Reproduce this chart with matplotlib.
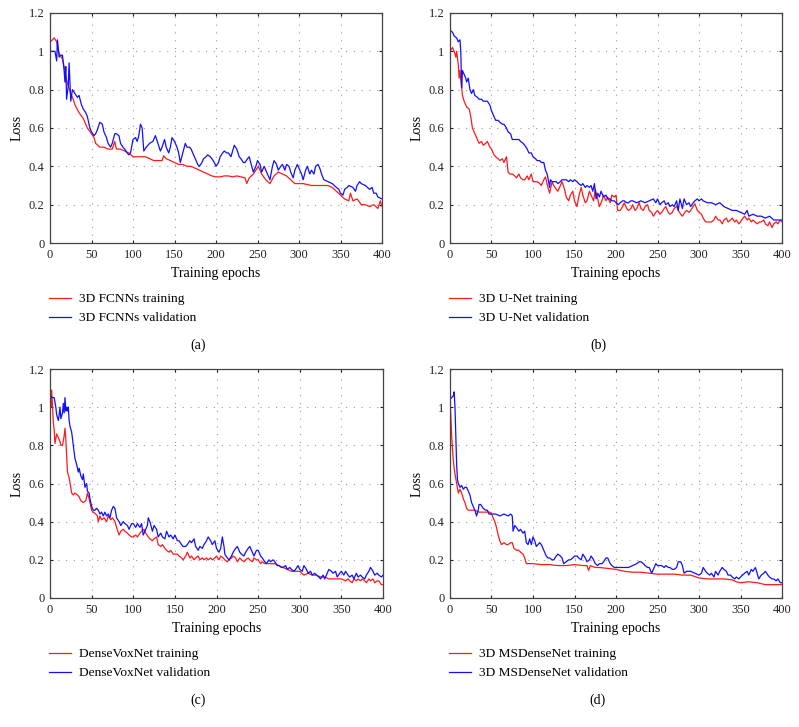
import numpy as np
import matplotlib
matplotlib.use("Agg")
import matplotlib.pyplot as plt

plt.rcParams['font.family'] = 'serif'
plt.rcParams['font.serif'] = ['Liberation Serif', 'DejaVu Serif']

# epoch, loss pairs
a_train = np.array([
    (0, 1.05), (3, 1.06), (5, 1.07), (8, 1.05), (10, 1.0), (12, 0.98), (15, 0.96), (18, 0.9), (20, 0.85),
    (22, 0.82), (25, 0.78), (28, 0.75), (30, 0.72), (35, 0.68), (40, 0.65), (45, 0.6), (50, 0.57),
    (53, 0.55), (55, 0.52), (60, 0.5), (65, 0.5), (70, 0.49), (75, 0.49), (78, 0.53), (80, 0.49),
    (85, 0.49), (90, 0.48), (95, 0.47), (100, 0.45), (105, 0.45), (110, 0.45), (115, 0.45), (120, 0.44),
    (125, 0.43), (130, 0.43), (135, 0.43), (137, 0.455), (140, 0.44), (145, 0.43), (150, 0.42),
    (155, 0.41), (160, 0.41), (165, 0.40), (170, 0.40), (175, 0.39), (180, 0.38), (185, 0.37),
    (190, 0.36), (195, 0.35), (200, 0.345), (205, 0.345), (210, 0.35), (215, 0.35), (220, 0.345),
    (225, 0.35), (230, 0.345), (235, 0.34), (237, 0.31), (240, 0.34), (245, 0.36), (248, 0.38),
    (251, 0.40), (255, 0.36), (260, 0.33), (265, 0.31), (270, 0.35), (275, 0.37), (280, 0.36),
    (285, 0.35), (290, 0.33), (295, 0.31), (300, 0.31), (305, 0.31), (310, 0.305), (315, 0.30),
    (320, 0.30), (325, 0.30), (330, 0.30), (335, 0.30), (340, 0.29), (345, 0.27), (350, 0.25),
    (355, 0.23), (360, 0.22), (362, 0.26), (365, 0.22), (370, 0.23), (375, 0.2), (380, 0.2),
    (385, 0.19), (390, 0.2), (395, 0.18), (398, 0.22), (400, 0.19)])
a_val = np.array([
    (0, 1.0), (3, 1.0), (6, 1.0), (8, 0.95), (9, 1.06), (11, 0.97), (13, 0.98), (15, 0.98), (17, 0.9),
    (18, 0.84), (19, 0.92), (20, 0.75), (22, 0.82), (23, 0.94), (25, 0.74), (27, 0.8), (30, 0.78),
    (33, 0.76), (35, 0.77), (38, 0.72), (40, 0.7), (43, 0.68), (45, 0.66), (48, 0.6), (50, 0.58),
    (53, 0.56), (55, 0.57), (57, 0.59), (60, 0.63), (63, 0.62), (65, 0.58), (68, 0.55), (70, 0.52),
    (73, 0.5), (75, 0.52), (78, 0.57), (80, 0.57), (83, 0.56), (85, 0.52), (88, 0.5), (90, 0.49),
    (93, 0.47), (95, 0.46), (97, 0.47), (100, 0.54), (103, 0.55), (105, 0.53), (107, 0.56), (109, 0.62),
    (111, 0.6), (113, 0.48), (116, 0.5), (120, 0.52), (124, 0.53), (127, 0.56), (130, 0.52), (133, 0.48),
    (135, 0.5), (138, 0.54), (140, 0.5), (143, 0.47), (145, 0.5), (147, 0.55), (150, 0.53), (153, 0.5),
    (155, 0.47), (157, 0.42), (160, 0.47), (163, 0.52), (165, 0.5), (168, 0.5), (170, 0.49), (173, 0.46),
    (175, 0.44), (178, 0.41), (180, 0.40), (183, 0.42), (185, 0.44), (188, 0.45), (190, 0.46),
    (193, 0.45), (195, 0.44), (198, 0.42), (200, 0.40), (203, 0.42), (205, 0.45), (208, 0.47),
    (210, 0.48), (213, 0.47), (215, 0.47), (218, 0.45), (220, 0.48), (222, 0.51), (225, 0.49),
    (228, 0.45), (230, 0.44), (233, 0.42), (235, 0.42), (238, 0.44), (240, 0.45), (243, 0.40),
    (245, 0.37), (248, 0.40), (250, 0.43), (253, 0.41), (255, 0.37), (258, 0.40), (260, 0.38),
    (263, 0.35), (265, 0.33), (268, 0.40), (270, 0.43), (273, 0.41), (275, 0.38), (278, 0.40),
    (280, 0.41), (283, 0.38), (285, 0.41), (288, 0.40), (290, 0.37), (293, 0.34), (295, 0.38),
    (298, 0.41), (300, 0.39), (303, 0.36), (305, 0.33), (308, 0.38), (310, 0.40), (313, 0.36),
    (315, 0.38), (318, 0.36), (320, 0.40), (323, 0.41), (325, 0.39), (328, 0.35), (330, 0.33),
    (335, 0.32), (340, 0.31), (345, 0.29), (348, 0.28), (350, 0.26), (353, 0.25), (355, 0.28),
    (358, 0.29), (360, 0.30), (365, 0.29), (368, 0.27), (370, 0.30), (373, 0.32), (375, 0.31),
    (380, 0.30), (385, 0.28), (388, 0.29), (390, 0.26), (393, 0.26), (395, 0.24), (400, 0.23)])

b_train = np.array([
    (0, 1.0), (3, 1.02), (5, 1.0), (7, 0.97), (8, 1.0), (10, 0.93), (11, 0.86), (12, 0.9), (13, 0.85),
    (14, 0.81), (15, 0.77), (17, 0.74), (20, 0.71), (23, 0.70), (25, 0.66), (27, 0.6), (30, 0.57),
    (33, 0.54), (35, 0.52), (38, 0.53), (40, 0.51), (43, 0.52), (45, 0.53), (48, 0.50), (50, 0.49),
    (53, 0.46), (55, 0.45), (58, 0.44), (60, 0.43), (63, 0.44), (65, 0.42), (68, 0.45), (70, 0.37),
    (72, 0.36), (75, 0.36), (78, 0.35), (80, 0.34), (83, 0.36), (85, 0.34), (88, 0.33), (90, 0.33),
    (93, 0.35), (95, 0.33), (98, 0.36), (100, 0.32), (103, 0.32), (105, 0.32), (108, 0.31), (110, 0.30),
    (113, 0.33), (115, 0.345), (118, 0.29), (120, 0.26), (123, 0.32), (125, 0.30), (128, 0.28),
    (130, 0.27), (133, 0.30), (135, 0.32), (138, 0.28), (140, 0.24), (143, 0.22), (145, 0.25),
    (148, 0.27), (150, 0.22), (153, 0.19), (155, 0.24), (158, 0.29), (160, 0.25), (163, 0.21),
    (165, 0.22), (168, 0.27), (170, 0.25), (173, 0.22), (175, 0.28), (178, 0.23), (180, 0.19),
    (183, 0.22), (185, 0.25), (188, 0.22), (190, 0.24), (193, 0.21), (195, 0.25), (198, 0.24),
    (200, 0.25), (202, 0.17), (205, 0.17), (208, 0.19), (210, 0.21), (213, 0.18), (215, 0.17),
    (218, 0.18), (220, 0.2), (223, 0.17), (225, 0.18), (228, 0.21), (230, 0.18), (233, 0.17),
    (235, 0.19), (238, 0.2), (240, 0.17), (243, 0.16), (245, 0.14), (248, 0.16), (250, 0.17),
    (253, 0.15), (255, 0.16), (258, 0.18), (260, 0.19), (263, 0.16), (265, 0.15), (268, 0.16),
    (270, 0.18), (273, 0.19), (275, 0.17), (278, 0.15), (280, 0.14), (283, 0.16), (285, 0.17),
    (288, 0.16), (290, 0.17), (293, 0.19), (295, 0.205), (298, 0.17), (300, 0.16), (303, 0.15),
    (305, 0.13), (308, 0.11), (310, 0.11), (313, 0.11), (315, 0.11), (318, 0.12), (320, 0.14),
    (323, 0.12), (325, 0.12), (328, 0.10), (330, 0.12), (333, 0.13), (335, 0.11), (338, 0.12),
    (340, 0.13), (343, 0.11), (345, 0.12), (348, 0.1), (350, 0.11), (353, 0.13), (355, 0.14),
    (358, 0.12), (360, 0.13), (363, 0.11), (365, 0.12), (370, 0.10), (373, 0.11), (375, 0.11),
    (378, 0.12), (380, 0.10), (383, 0.09), (385, 0.11), (388, 0.08), (390, 0.1), (393, 0.11),
    (395, 0.10), (398, 0.12), (400, 0.11)])
b_val = np.array([
    (0, 1.11), (3, 1.10), (5, 1.08), (8, 1.07), (10, 1.05), (12, 1.06), (13, 1.0), (14, 0.81), (15, 0.9),
    (17, 0.88), (19, 0.86), (20, 0.84), (22, 0.86), (24, 0.80), (26, 0.78), (28, 0.80), (30, 0.77),
    (33, 0.76), (35, 0.75), (38, 0.75), (40, 0.74), (43, 0.74), (45, 0.74), (48, 0.72), (50, 0.69),
    (53, 0.66), (55, 0.64), (58, 0.64), (60, 0.63), (63, 0.62), (65, 0.62), (68, 0.60), (70, 0.58),
    (73, 0.57), (75, 0.54), (78, 0.54), (80, 0.54), (83, 0.54), (85, 0.53), (88, 0.52), (90, 0.51),
    (93, 0.49), (95, 0.47), (98, 0.47), (100, 0.45), (103, 0.44), (105, 0.43), (108, 0.43), (110, 0.42),
    (113, 0.42), (115, 0.38), (117, 0.36), (118, 0.34), (120, 0.29), (121, 0.33), (123, 0.32),
    (125, 0.32), (128, 0.32), (130, 0.31), (133, 0.32), (135, 0.33), (138, 0.33), (140, 0.33),
    (143, 0.32), (145, 0.33), (148, 0.32), (150, 0.33), (153, 0.32), (155, 0.31), (158, 0.30),
    (160, 0.31), (163, 0.29), (165, 0.30), (168, 0.29), (170, 0.30), (172, 0.27), (174, 0.31),
    (176, 0.23), (178, 0.26), (180, 0.24), (182, 0.27), (185, 0.24), (188, 0.25), (190, 0.23),
    (193, 0.23), (195, 0.22), (198, 0.22), (200, 0.21), (203, 0.2), (205, 0.21), (208, 0.22),
    (210, 0.22), (213, 0.21), (215, 0.21), (218, 0.22), (220, 0.22), (225, 0.21), (230, 0.22),
    (235, 0.21), (240, 0.22), (245, 0.23), (248, 0.21), (250, 0.23), (253, 0.2), (255, 0.21),
    (258, 0.22), (260, 0.20), (263, 0.21), (265, 0.19), (268, 0.2), (270, 0.19), (273, 0.22),
    (275, 0.17), (277, 0.23), (280, 0.18), (282, 0.23), (285, 0.2), (288, 0.21), (290, 0.19),
    (293, 0.21), (295, 0.22), (298, 0.23), (300, 0.22), (303, 0.23), (305, 0.22), (310, 0.21),
    (315, 0.21), (320, 0.20), (325, 0.21), (330, 0.19), (335, 0.18), (340, 0.17), (345, 0.17),
    (350, 0.16), (355, 0.15), (358, 0.17), (360, 0.14), (365, 0.15), (370, 0.14), (375, 0.14),
    (380, 0.13), (385, 0.14), (390, 0.12), (395, 0.12), (400, 0.12)])

c_train = np.array([
    (0, 1.03), (1, 1.0), (2, 1.09), (3, 1.0), (4, 0.92), (5, 0.88), (6, 0.81), (8, 0.86), (10, 0.84),
    (12, 0.82), (13, 0.80), (15, 0.80), (17, 0.85), (18, 0.89), (19, 0.83), (20, 0.75), (21, 0.66),
    (23, 0.63), (25, 0.58), (26, 0.55), (28, 0.54), (30, 0.55), (33, 0.54), (35, 0.53), (37, 0.51),
    (40, 0.50), (43, 0.51), (45, 0.55), (47, 0.52), (50, 0.46), (52, 0.45), (55, 0.44), (57, 0.43),
    (58, 0.40), (60, 0.43), (62, 0.41), (65, 0.42), (68, 0.40), (70, 0.43), (73, 0.41), (75, 0.42),
    (78, 0.40), (80, 0.37), (83, 0.33), (85, 0.35), (88, 0.36), (90, 0.35), (93, 0.34), (95, 0.33),
    (98, 0.32), (100, 0.32), (103, 0.33), (105, 0.32), (108, 0.34), (110, 0.35), (113, 0.36),
    (115, 0.34), (118, 0.32), (120, 0.31), (123, 0.30), (125, 0.31), (128, 0.32), (130, 0.28),
    (133, 0.27), (135, 0.28), (138, 0.26), (140, 0.25), (143, 0.24), (145, 0.25), (148, 0.23),
    (150, 0.23), (153, 0.23), (155, 0.22), (158, 0.21), (160, 0.20), (163, 0.22), (165, 0.24),
    (168, 0.21), (170, 0.22), (173, 0.20), (175, 0.21), (178, 0.22), (180, 0.20), (183, 0.21),
    (185, 0.20), (188, 0.21), (190, 0.20), (193, 0.21), (195, 0.20), (198, 0.21), (200, 0.22),
    (203, 0.20), (205, 0.22), (208, 0.21), (210, 0.20), (213, 0.19), (215, 0.20), (218, 0.21),
    (220, 0.22), (223, 0.21), (225, 0.19), (228, 0.21), (230, 0.20), (233, 0.19), (235, 0.20),
    (238, 0.21), (240, 0.20), (243, 0.19), (245, 0.21), (248, 0.20), (250, 0.20), (253, 0.18),
    (255, 0.19), (258, 0.18), (260, 0.18), (265, 0.18), (270, 0.18), (275, 0.17), (280, 0.16),
    (285, 0.15), (290, 0.14), (295, 0.14), (300, 0.14), (305, 0.12), (310, 0.13), (315, 0.12),
    (320, 0.12), (325, 0.11), (330, 0.11), (335, 0.10), (340, 0.10), (345, 0.10), (350, 0.10),
    (355, 0.09), (358, 0.10), (360, 0.09), (363, 0.08), (365, 0.10), (368, 0.09), (370, 0.10),
    (373, 0.09), (375, 0.10), (378, 0.09), (380, 0.08), (383, 0.10), (385, 0.09), (388, 0.10),
    (390, 0.08), (393, 0.09), (395, 0.09), (398, 0.07), (400, 0.07)])
c_val = np.array([
    (0, 1.06), (3, 1.05), (5, 1.05), (7, 1.0), (8, 0.96), (10, 0.93), (11, 0.96), (12, 1.0), (13, 0.94),
    (15, 0.97), (16, 1.02), (17, 0.97), (18, 1.05), (19, 0.98), (20, 1.0), (21, 0.98), (22, 1.0),
    (23, 0.93), (24, 0.90), (26, 0.87), (28, 0.80), (30, 0.73), (32, 0.70), (34, 0.66), (35, 0.68),
    (37, 0.64), (39, 0.62), (40, 0.65), (42, 0.58), (44, 0.60), (45, 0.56), (47, 0.55), (48, 0.52),
    (50, 0.48), (52, 0.46), (54, 0.46), (56, 0.47), (58, 0.46), (60, 0.44), (62, 0.45), (64, 0.43),
    (66, 0.45), (68, 0.43), (70, 0.44), (72, 0.42), (74, 0.46), (76, 0.48), (78, 0.47), (80, 0.42),
    (83, 0.40), (85, 0.38), (88, 0.40), (90, 0.39), (93, 0.38), (95, 0.36), (98, 0.39), (100, 0.39),
    (103, 0.37), (105, 0.39), (108, 0.37), (110, 0.39), (112, 0.33), (115, 0.36), (117, 0.38),
    (118, 0.42), (120, 0.40), (123, 0.35), (125, 0.38), (128, 0.36), (130, 0.32), (133, 0.34),
    (135, 0.32), (138, 0.31), (140, 0.35), (143, 0.32), (145, 0.33), (148, 0.31), (150, 0.33),
    (153, 0.30), (155, 0.30), (158, 0.28), (160, 0.27), (163, 0.27), (165, 0.28), (168, 0.30),
    (170, 0.29), (173, 0.31), (175, 0.27), (178, 0.25), (180, 0.27), (183, 0.26), (185, 0.28),
    (188, 0.30), (190, 0.32), (193, 0.30), (195, 0.28), (198, 0.30), (200, 0.26), (203, 0.24),
    (205, 0.26), (207, 0.32), (209, 0.27), (210, 0.23), (213, 0.21), (215, 0.20), (218, 0.22),
    (220, 0.24), (223, 0.26), (225, 0.27), (228, 0.24), (230, 0.23), (233, 0.22), (235, 0.24),
    (238, 0.26), (240, 0.27), (243, 0.24), (245, 0.22), (248, 0.25), (250, 0.25), (253, 0.22),
    (255, 0.21), (258, 0.19), (260, 0.18), (263, 0.20), (265, 0.19), (268, 0.20), (270, 0.19),
    (273, 0.17), (275, 0.17), (278, 0.16), (280, 0.16), (283, 0.17), (285, 0.15), (288, 0.16),
    (290, 0.15), (293, 0.14), (295, 0.15), (298, 0.17), (300, 0.15), (303, 0.14), (305, 0.17),
    (308, 0.15), (310, 0.13), (313, 0.14), (315, 0.12), (318, 0.13), (320, 0.12), (323, 0.11),
    (325, 0.10), (328, 0.12), (330, 0.10), (333, 0.13), (335, 0.15), (338, 0.14), (340, 0.13),
    (343, 0.14), (345, 0.11), (348, 0.13), (350, 0.14), (353, 0.12), (355, 0.14), (358, 0.12),
    (360, 0.11), (363, 0.12), (365, 0.10), (368, 0.13), (370, 0.11), (373, 0.12), (375, 0.11),
    (378, 0.10), (380, 0.12), (383, 0.14), (385, 0.16), (388, 0.14), (390, 0.12), (393, 0.13),
    (395, 0.12), (398, 0.11), (400, 0.12)])

d_train = np.array([
    (0, 1.04), (1, 0.95), (2, 0.85), (3, 0.78), (4, 0.72), (5, 0.68), (6, 0.65), (8, 0.60), (10, 0.55),
    (12, 0.57), (14, 0.55), (16, 0.52), (18, 0.50), (20, 0.47), (22, 0.46), (25, 0.46), (30, 0.46),
    (35, 0.45), (40, 0.45), (45, 0.45), (48, 0.45), (50, 0.44), (52, 0.42), (54, 0.40), (56, 0.37),
    (58, 0.33), (60, 0.30), (62, 0.28), (65, 0.29), (68, 0.28), (70, 0.28), (73, 0.29), (75, 0.29),
    (77, 0.26), (80, 0.25), (83, 0.25), (85, 0.24), (88, 0.23), (90, 0.21), (92, 0.18), (95, 0.18),
    (100, 0.18), (110, 0.175), (120, 0.175), (130, 0.17), (140, 0.17), (150, 0.175), (160, 0.17),
    (165, 0.17), (167, 0.145), (169, 0.17), (175, 0.16), (180, 0.16), (190, 0.155), (200, 0.15),
    (210, 0.14), (220, 0.135), (230, 0.135), (240, 0.13), (250, 0.125), (260, 0.125), (270, 0.125),
    (280, 0.12), (290, 0.12), (300, 0.105), (310, 0.10), (320, 0.10), (330, 0.10), (340, 0.095),
    (345, 0.085), (350, 0.08), (360, 0.085), (370, 0.08), (375, 0.075), (380, 0.07), (390, 0.07),
    (400, 0.07)])
d_val = np.array([
    (0, 1.04), (2, 1.05), (4, 1.06), (5, 1.08), (6, 1.0), (7, 0.85), (8, 0.70), (9, 0.62), (10, 0.60),
    (12, 0.58), (14, 0.59), (16, 0.57), (18, 0.58), (20, 0.58), (22, 0.56), (24, 0.54), (26, 0.50),
    (28, 0.48), (30, 0.46), (32, 0.43), (34, 0.46), (35, 0.49), (37, 0.49), (40, 0.47), (43, 0.46),
    (45, 0.46), (47, 0.44), (50, 0.44), (55, 0.44), (60, 0.43), (65, 0.44), (70, 0.43), (73, 0.44),
    (75, 0.43), (76, 0.35), (78, 0.38), (80, 0.37), (83, 0.35), (85, 0.36), (88, 0.34), (90, 0.35),
    (92, 0.29), (94, 0.28), (96, 0.31), (98, 0.28), (100, 0.32), (102, 0.30), (104, 0.27), (106, 0.28),
    (108, 0.29), (110, 0.28), (112, 0.26), (114, 0.24), (116, 0.22), (118, 0.21), (120, 0.21),
    (123, 0.20), (125, 0.20), (128, 0.22), (130, 0.23), (133, 0.22), (135, 0.21), (137, 0.18),
    (140, 0.19), (143, 0.20), (145, 0.20), (148, 0.21), (150, 0.22), (153, 0.22), (155, 0.21),
    (158, 0.20), (160, 0.23), (163, 0.21), (165, 0.19), (168, 0.20), (170, 0.22), (173, 0.20),
    (175, 0.18), (178, 0.17), (180, 0.18), (183, 0.18), (185, 0.19), (188, 0.21), (190, 0.21),
    (193, 0.18), (195, 0.17), (198, 0.16), (200, 0.16), (205, 0.16), (210, 0.16), (215, 0.16),
    (220, 0.17), (225, 0.18), (228, 0.19), (230, 0.19), (233, 0.18), (235, 0.17), (238, 0.16),
    (240, 0.16), (243, 0.13), (245, 0.15), (248, 0.18), (250, 0.17), (255, 0.17), (258, 0.16),
    (260, 0.17), (263, 0.16), (265, 0.16), (268, 0.15), (270, 0.15), (273, 0.16), (275, 0.19),
    (278, 0.19), (280, 0.17), (282, 0.13), (285, 0.14), (290, 0.14), (295, 0.13), (300, 0.12),
    (303, 0.13), (305, 0.16), (308, 0.14), (310, 0.13), (313, 0.12), (315, 0.13), (318, 0.11),
    (320, 0.14), (323, 0.12), (325, 0.14), (328, 0.16), (330, 0.15), (333, 0.14), (335, 0.12),
    (338, 0.12), (340, 0.11), (343, 0.10), (345, 0.11), (348, 0.10), (350, 0.11), (355, 0.13),
    (358, 0.14), (360, 0.12), (363, 0.15), (365, 0.14), (368, 0.16), (370, 0.13), (372, 0.10),
    (375, 0.12), (378, 0.13), (380, 0.14), (383, 0.12), (385, 0.11), (388, 0.10), (390, 0.10),
    (393, 0.09), (395, 0.10), (398, 0.08), (400, 0.08)])

model_names = ['3D FCNNs', '3D U-Net', 'DenseVoxNet', '3D MSDenseNet']
panel_tags = ['(a)', '(b)', '(c)', '(d)']
x_ticks = [0, 50, 100, 150, 200, 250, 300, 350, 400]
y_ticks = [0, 0.2, 0.4, 0.6, 0.8, 1.0, 1.2]
y_tick_labels = ['0', '0.2', '0.4', '0.6', '0.8', '1', '1.2']

W, H = 799, 727
fig = plt.figure(figsize=(W / 100, H / 100), dpi=100)

# axes boxes in pixels: left, top, right, bottom
boxes = [(50, 13, 382, 243), (450, 13, 782, 243), (50, 369, 383, 598), (450, 369, 782, 598)]
series = [(a_train, a_val), (b_train, b_val), (c_train, c_val), (d_train, d_val)]

for box, (tr, va), name, tag in zip(boxes, series, model_names, panel_tags):
    l, t, r, b = box
    ax = fig.add_axes([l / W, 1 - b / H, (r - l) / W, (b - t) / H])
    ax.plot(tr[:, 0], tr[:, 1], color='#ff1a1a', lw=0.9, label=name + ' training')
    ax.plot(va[:, 0], va[:, 1], color='#1010ff', lw=0.9, label=name + ' validation')
    ax.set_xlim(0, 400)
    ax.set_ylim(0, 1.2)
    ax.set_xticks(x_ticks)
    ax.set_yticks(y_ticks)
    ax.set_yticklabels(y_tick_labels)
    ax.grid(True, linestyle=(0, (1, 6)), color='#999999', lw=0.8)
    ax.tick_params(direction='in', length=2.5, width=0.8, labelsize=9, pad=4, colors='#222222',
                   top=True, right=True)
    for sp in ax.spines.values():
        sp.set_color('#444444')
        sp.set_linewidth(0.9)
    ax.set_xlabel('Training epochs', fontsize=10, labelpad=4.5)
    ax.set_ylabel('Loss', fontsize=10, labelpad=4)
    ax.legend(loc='upper left', bbox_to_anchor=(-1 / (r - l), -50 / (b - t)), frameon=False,
              fontsize=9.6, handlelength=1.65, handletextpad=0.6, labelspacing=0.5,
              borderpad=0, borderaxespad=0)
    ax.text((198 - 50) / (r - l), -102 / (b - t), tag, transform=ax.transAxes,
            ha='center', va='center', fontsize=10)

fig.savefig('out.png', dpi=100)
